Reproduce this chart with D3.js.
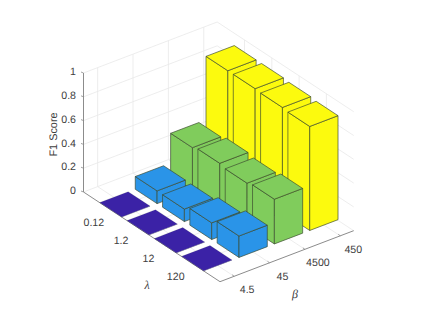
<!DOCTYPE html>
<html>
<head>
<meta charset="utf-8">
<script src="https://cdn.jsdelivr.net/npm/d3@7/dist/d3.min.js"></script>
<style>
html,body{margin:0;padding:0;background:#fff;overflow:hidden}
svg{display:block}
text{font-family:"Liberation Sans",Arial,sans-serif;fill:#404040;font-size:10.6px;text-rendering:geometricPrecision}
</style>
</head>
<body>
<svg id="chart" width="423" height="317"></svg>
<script>
const lambdaLabels = ["0.12", "1.2", "12", "120"];
const betaLabels = ["4.5", "45", "4500", "450"];
const zTicks = [0, 0.2, 0.4, 0.6, 0.8, 1];
const scoresBeta1 = [0.002, 0.002, 0.002, 0.002];
const scoresBeta2 = [0.107, 0.105, 0.14, 0.18];
const scoresBeta3 = [0.357, 0.376, 0.36, 0.376];
const scoresBeta4 = [0.89, 0.89, 0.883, 0.874];
const seriesValues = [scoresBeta1, scoresBeta2, scoresBeta3, scoresBeta4];
const seriesColors = ["#3B22A6", "#2A94E8", "#80CC5C", "#FCFA0E"];
const barWidth = 0.8;

const leftCorner = [83.5, 192];
const lambdaVec = [136.5, 89.7];
const betaVec = [133.7, -51];
const zPixels = 119;

const lambdaScale = d3.scaleLinear().domain([0, 5]).range([0, 1]);
const betaScale = d3.scaleLinear().domain([0.6, 4.38]).range([0, 1]);
const zScale = d3.scaleLinear().domain([0, 1]).range([0, zPixels]);

function project(l, b, z) {
  const u = lambdaScale(l), v = betaScale(b);
  return [
    leftCorner[0] + u * lambdaVec[0] + v * betaVec[0],
    leftCorner[1] + u * lambdaVec[1] + v * betaVec[1] - zScale(z)
  ];
}
const [lMin, lMax] = lambdaScale.domain();
const [bMin, bMax] = betaScale.domain();
const svg = d3.select("#chart");
const line = d3.line();

function seg(g, a, b, color, w) {
  g.append("path").attr("d", line([a, b])).attr("fill", "none")
    .attr("stroke", color).attr("stroke-width", w);
}

const gridColor = "#e8e8e8";
const grid = svg.append("g");
lambdaLabels.forEach((_, i) => {
  const l = i + 1;
  seg(grid, project(l, bMin, 0), project(l, bMax, 0), gridColor, 0.8);
  seg(grid, project(l, bMax, 0), project(l, bMax, 1), gridColor, 0.8);
});
betaLabels.forEach((_, i) => {
  const b = i + 1;
  seg(grid, project(lMax, b, 0), project(lMin, b, 0), gridColor, 0.8);
  seg(grid, project(lMin, b, 0), project(lMin, b, 1), gridColor, 0.8);
});
zTicks.forEach(z => {
  seg(grid, project(lMin, bMin, z), project(lMin, bMax, z), gridColor, 0.8);
  seg(grid, project(lMin, bMax, z), project(lMax, bMax, z), gridColor, 0.8);
});

const axisColor = "#8c8c8c";
const axes = svg.append("g");
seg(axes, project(lMin, bMin, 0), project(lMin, bMin, 1), axisColor, 1);
seg(axes, project(lMin, bMin, 0), project(lMax, bMin, 0), axisColor, 1);
seg(axes, project(lMax, bMin, 0), project(lMax, bMax, 0), axisColor, 1);

zTicks.forEach(z => {
  const p = project(lMin, bMin, z);
  seg(axes, p, [p[0] - 2.5, p[1] - 1], axisColor, 0.8);
  axes.append("text").attr("x", p[0] - 7.5).attr("y", p[1] - 0.5)
    .attr("text-anchor", "end").attr("dominant-baseline", "middle").text(d3.format("~g")(z));
});
lambdaLabels.forEach((t, i) => {
  const p = project(i + 1, bMin, 0);
  seg(axes, p, [p[0] + 2.5, p[1] - 1], axisColor, 0.8);
  axes.append("text").attr("x", p[0] - 17).attr("y", p[1] + 13.5)
    .attr("text-anchor", "middle").attr("dominant-baseline", "middle").text(t);
});
betaLabels.forEach((t, i) => {
  const p = project(lMax, i + 1, 0);
  seg(axes, p, [p[0] - 2, p[1] - 1.5], axisColor, 0.8);
  axes.append("text").attr("x", p[0] + 13).attr("y", p[1] + 14)
    .attr("text-anchor", "middle").attr("dominant-baseline", "middle").text(t);
});

svg.append("text").attr("transform", "translate(57,134.5) rotate(-90)")
  .attr("text-anchor", "middle").style("font-size", "10.9px").text("F1 Score");
svg.append("text").attr("x", 147).attr("y", 289).attr("text-anchor", "middle")
  .style("font-family", "'Liberation Serif',serif").style("font-style", "italic")
  .style("font-size", "12px").text("λ");
svg.append("text").attr("x", 295).attr("y", 298).attr("text-anchor", "middle")
  .style("font-family", "'Liberation Serif',serif").style("font-style", "italic")
  .style("font-size", "12px").text("β");

const bars = [];
seriesValues.forEach((vals, bi) => {
  vals.forEach((v, li) => bars.push({ b: bi + 1, l: li + 1, v, color: seriesColors[bi] }));
});
bars.sort((a, c) => (c.b - a.b) || (a.l - c.l));

const barLayer = svg.append("g");
const edge = "#3c4a30";
bars.forEach(d => {
  const h = barWidth / 2;
  const l0 = d.l - h, l1 = d.l + h, b0 = d.b - h, b1 = d.b + h;
  const faces = [
    [project(l0, b0, 0), project(l1, b0, 0), project(l1, b0, d.v), project(l0, b0, d.v)],
    [project(l1, b0, 0), project(l1, b1, 0), project(l1, b1, d.v), project(l1, b0, d.v)],
    [project(l0, b0, d.v), project(l1, b0, d.v), project(l1, b1, d.v), project(l0, b1, d.v)]
  ];
  faces.forEach(f => {
    barLayer.append("path")
      .attr("d", line(f) + "Z")
      .attr("fill", d.color)
      .attr("stroke", edge)
      .attr("stroke-width", 0.8)
      .attr("stroke-opacity", d.v < 0.01 ? 0.15 : 0.85)
      .attr("stroke-linejoin", "round");
  });
});
</script>
</body>
</html>
